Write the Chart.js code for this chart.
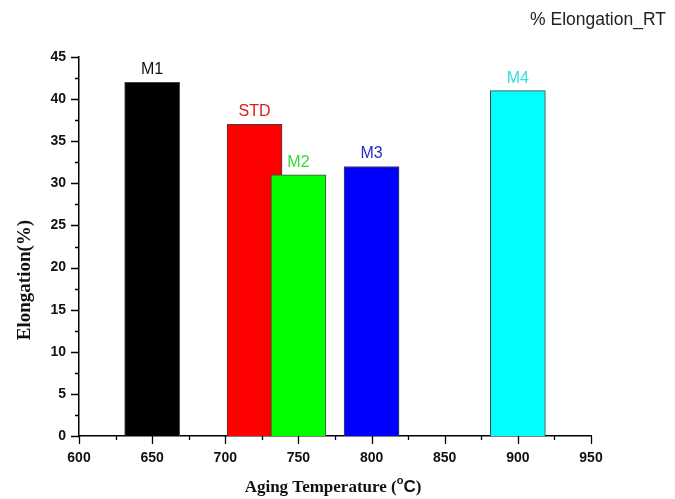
<!DOCTYPE html>
<html>
<head>
<meta charset="utf-8">
<script src="https://cdn.jsdelivr.net/npm/chart.js@4/dist/chart.umd.min.js"></script>
<style>html,body{margin:0;padding:0;background:#fff;}canvas{display:block;}</style>
</head>
<body>
<canvas id="c" width="675" height="499"></canvas>
<script>
const labels = ['M1', 'STD', 'M2', 'M3', 'M4'];
const temps = [650, 720, 750, 800, 900];
const elongation = [42, 37, 31, 32, 41];
const barColors = ['#000000', '#ff0000', '#00ff00', '#0000ff', '#00ffff'];
const labelColors = ['#111111', '#e01a1a', '#33dd33', '#2a2acc', '#33dddd'];
const xTicks = [600, 650, 700, 750, 800, 850, 900, 950];
const yTicks = [0, 5, 10, 15, 20, 25, 30, 35, 40, 45];

const points = temps.map((t, i) => ({x: t, y: elongation[i]}));

const decor = {
  id: 'decor',
  afterDatasetsDraw(chart) {
    const ctx = chart.ctx;
    const meta = chart.getDatasetMeta(0);
    ctx.save();
    ctx.font = '16px "Liberation Sans", Arial, sans-serif';
    ctx.textAlign = 'center';
    ctx.textBaseline = 'alphabetic';
    meta.data.forEach((el, i) => {
      ctx.fillStyle = labelColors[i];
      ctx.fillText(labels[i], el.x, el.y - 8);
    });
    // tick marks (major + minor)
    const xs = chart.scales.x, ys = chart.scales.y;
    ctx.strokeStyle = '#000';
    ctx.lineWidth = 1.3;
    ctx.beginPath();
    for (let i = 0; i < xTicks.length; i++) {
      const px = Math.round(xs.getPixelForValue(xTicks[i])) + 0.5;
      ctx.moveTo(px, ys.bottom);
      ctx.lineTo(px, ys.bottom + 8);
      if (i < xTicks.length - 1) {
        const pm = Math.round(xs.getPixelForValue((xTicks[i] + xTicks[i + 1]) / 2)) + 0.5;
        ctx.moveTo(pm, ys.bottom);
        ctx.lineTo(pm, ys.bottom + 4);
      }
    }
    for (let i = 0; i < yTicks.length; i++) {
      const py = Math.round(ys.getPixelForValue(yTicks[i])) + 0.5;
      ctx.moveTo(xs.left, py);
      ctx.lineTo(xs.left - 8, py);
      if (i < yTicks.length - 1) {
        const pm = Math.round(ys.getPixelForValue((yTicks[i] + yTicks[i + 1]) / 2)) + 0.5;
        ctx.moveTo(xs.left, pm);
        ctx.lineTo(xs.left - 4, pm);
      }
    }
    ctx.stroke();

    // x axis title with superscript degree
    ctx.fillStyle = '#111';
    ctx.textAlign = 'left';
    const serif = 'bold 17px "Liberation Serif", "Times New Roman", serif';
    const sans = 'bold 17px "Liberation Sans", Arial, sans-serif';
    const supF = 'bold 11px "Liberation Sans", Arial, sans-serif';
    const p1 = 'Aging Temperature (';
    ctx.font = serif; const w1 = ctx.measureText(p1).width;
    ctx.font = supF; const w2 = ctx.measureText('o').width;
    ctx.font = sans; const w3 = ctx.measureText('C').width;
    ctx.font = serif; const w4 = ctx.measureText(')').width;
    let x0 = 333 - (w1 + w2 + w3 + w4) / 2;
    const base = 492;
    ctx.font = serif; ctx.fillText(p1, x0, base); x0 += w1;
    ctx.font = supF; ctx.fillText('o', x0, base - 8); x0 += w2;
    ctx.font = sans; ctx.fillText('C', x0, base); x0 += w3;
    ctx.font = serif; ctx.fillText(')', x0, base);

    // y axis title
    ctx.save();
    ctx.translate(30, 280);
    ctx.rotate(-Math.PI / 2);
    ctx.textAlign = 'center';
    ctx.font = 'bold 19px "Liberation Serif", "Times New Roman", serif';
    ctx.fillText('Elongation(%)', 0, 0);
    ctx.restore();

    // chart title
    ctx.font = '17.5px "Liberation Sans", Arial, sans-serif';
    ctx.fillStyle = '#222';
    ctx.textAlign = 'center';
    ctx.fillText('% Elongation_RT', 598, 25);
    ctx.restore();
  }
};

new Chart(document.getElementById('c'), {
  type: 'bar',
  data: {
    datasets: [{
      data: points,
      backgroundColor: barColors,
      borderColor: '#444',
      borderWidth: 1,
      barThickness: 55,
      borderSkipped: 'bottom'
    }]
  },
  options: {
    responsive: false,
    animation: false,
    devicePixelRatio: 1,
    layout: {padding: {top: 57, right: 84, left: 0, bottom: 0}},
    plugins: {legend: {display: false}, tooltip: {enabled: false}},
    scales: {
      x: {
        type: 'linear',
        min: 600, max: 950,
        offset: false,
        afterBuildTicks: s => { s.ticks = xTicks.map(v => ({value: v})); },
        afterFit: s => { s.height = 63; },
        ticks: {
          color: '#111',
          font: {family: '"Liberation Sans", Arial, sans-serif', size: 14, weight: 'bold'},
          padding: 6,
          maxRotation: 0,
          autoSkip: false
        },
        grid: {display: false},
        border: {display: true, color: '#000', width: 1.5},
        title: {display: false}
      },
      y: {
        min: 0, max: 45,
        afterBuildTicks: s => { s.ticks = yTicks.map(v => ({value: v})); },
        afterFit: s => { s.width = 79; },
        ticks: {
          color: '#111',
          font: {family: '"Liberation Sans", Arial, sans-serif', size: 14, weight: 'bold'},
          padding: 5
        },
        grid: {display: false},
        border: {display: true, color: '#000', width: 1.5},
        title: {display: false}
      }
    }
  },
  plugins: [decor]
});
</script>
</body>
</html>
